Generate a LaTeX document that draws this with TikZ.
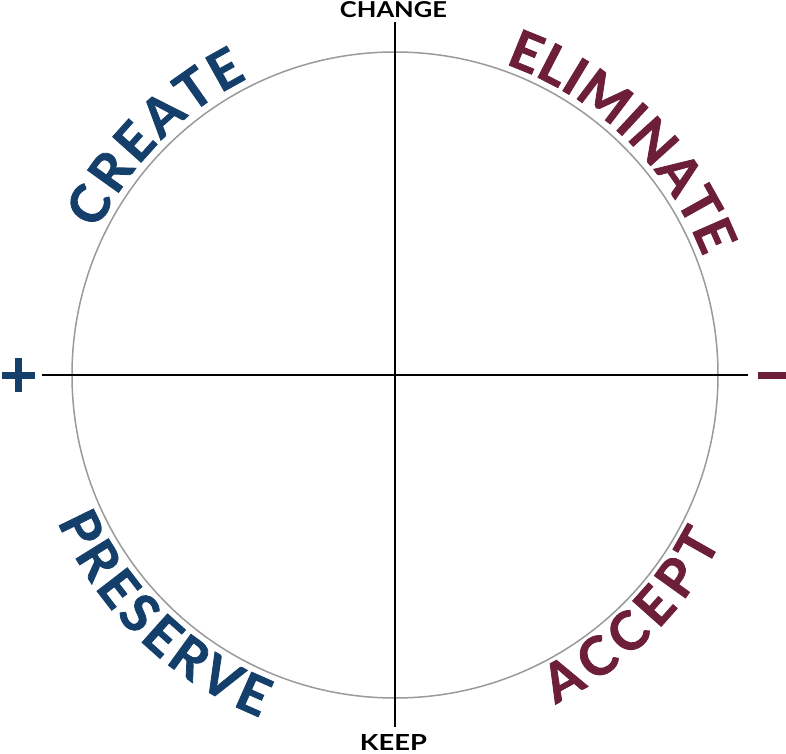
\documentclass[tikz,border=0pt]{standalone}
\usepackage{fontspec}
\usepackage{graphicx}
\setmainfont{Lato}
\newfontfamily\arcfont{Lato}[BoldFeatures={FakeBold=1.5}]
\usetikzlibrary{decorations.text}
\definecolor{cblue}{HTML}{143F6B}
\definecolor{cmaroon}{HTML}{6D1F3A}
\definecolor{cgray}{HTML}{9A9A9A}
\tikzset{
  ring/.style={draw=cgray, line width=1.5pt},
  axis/.style={draw=black, line width=1.5pt},
  arctext/.style={decorate, decoration={text along path, text align={fit to path}, text color=#1}},
  axislabel/.style={inner sep=0pt, text=black}
}
\begin{document}
\begin{tikzpicture}[x=1pt,y=1pt]
\useasboundingbox (-395,-378) rectangle (391,375);
% circle
\draw[ring] (0,0) circle[radius=323];
% axes
\coordinate (top) at (0,353);
\coordinate (bottom) at (0,-352);
\coordinate (left) at (-353,0);
\coordinate (right) at (353,0);
\draw[axis] (top) -- (bottom);
\draw[axis] (left) -- (right);
% axis labels
\node[axislabel] (change) at (-1.5,365) {\resizebox{107pt}{16pt}{\bfseries CHANGE}};
\node[axislabel] (keep) at (-1.5,-367.5) {\resizebox{67pt}{16pt}{\bfseries KEEP}};
% plus and minus
\fill[cblue] (-393,-3.5) rectangle (-360,3.5);
\fill[cblue] (-380,-17) rectangle (-373,17);
\fill[cmaroon] (363,-4) rectangle (391,3);
% curved words
\path[arctext=cblue, decoration={text={|\arcfont\fontsize{53}{53}\selectfont\bfseries|CREATE}}]
  (154:331) arc[start angle=154, end angle=116.5, radius=331];
\path[arctext=cmaroon, decoration={text={|\arcfont\fontsize{53}{53}\selectfont\bfseries|ELIMINATE}}]
  (70.5:330) arc[start angle=70.5, end angle=21, radius=330];
\path[arctext=cblue, decoration={text={|\arcfont\fontsize{53}{53}\selectfont\bfseries|PRESERVE}}]
  (203.5:368) arc[start angle=203.5, end angle=248.5, radius=368];
\path[arctext=cmaroon, decoration={text={|\arcfont\fontsize{53}{53}\selectfont\bfseries|ACCEPT}}]
  (296:366) arc[start angle=296, end angle=333, radius=366];
\end{tikzpicture}
\end{document}
